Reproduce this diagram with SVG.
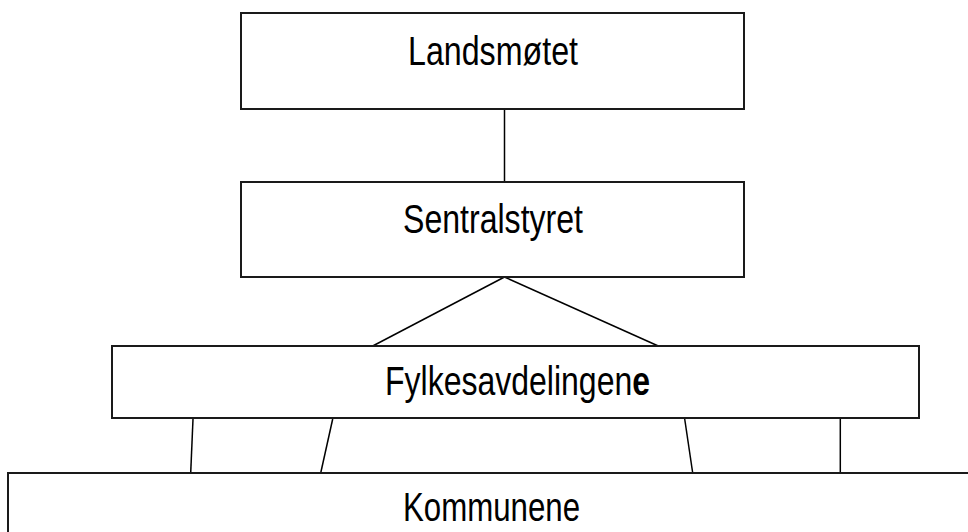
<svg xmlns="http://www.w3.org/2000/svg" width="968" height="532" viewBox="0 0 968 532">
<style>
.box{fill:#fff;stroke:#1a1a1a;stroke-width:2}
.lbl{font-family:"Liberation Sans",Arial,sans-serif;font-size:40px;fill:#000}
.con{stroke:#000;stroke-width:1.5;fill:none}
</style>
<rect width="968" height="532" fill="#fff"/>
<g id="connectors">
<line class="con" x1="504.5" y1="109" x2="504.5" y2="182"/>
<line class="con" x1="504.5" y1="277" x2="372.7" y2="346"/>
<line class="con" x1="504.5" y1="277" x2="658.3" y2="346"/>
<line class="con" x1="193" y1="419" x2="190.7" y2="473"/>
<line class="con" x1="332.7" y1="419" x2="320.7" y2="473"/>
<line class="con" x1="684.7" y1="419" x2="692.7" y2="473"/>
<line class="con" x1="840.3" y1="419" x2="840.3" y2="473"/>
</g>
<g id="landsmotet">
<rect class="box" x="241" y="13" width="503" height="96"/>
<text class="lbl" x="408" y="65" textLength="170" lengthAdjust="spacingAndGlyphs">Landsmøtet</text>
</g>
<g id="sentralstyret">
<rect class="box" x="241" y="182" width="503" height="95"/>
<text class="lbl" x="403" y="233" textLength="180" lengthAdjust="spacingAndGlyphs">Sentralstyret</text>
</g>
<g id="fylkesavdelingene">
<rect class="box" x="112" y="346" width="807" height="72"/>
<text class="lbl" transform="translate(385 395) scale(0.8 1)" x="0" y="0">Fylkesavdelingen<tspan font-weight="bold">e</tspan></text>
</g>
<g id="kommunene">
<rect class="box" x="8" y="473" width="975" height="100"/>
<text class="lbl" x="403" y="521" textLength="177" lengthAdjust="spacingAndGlyphs">Kommunene</text>
</g>
</svg>
